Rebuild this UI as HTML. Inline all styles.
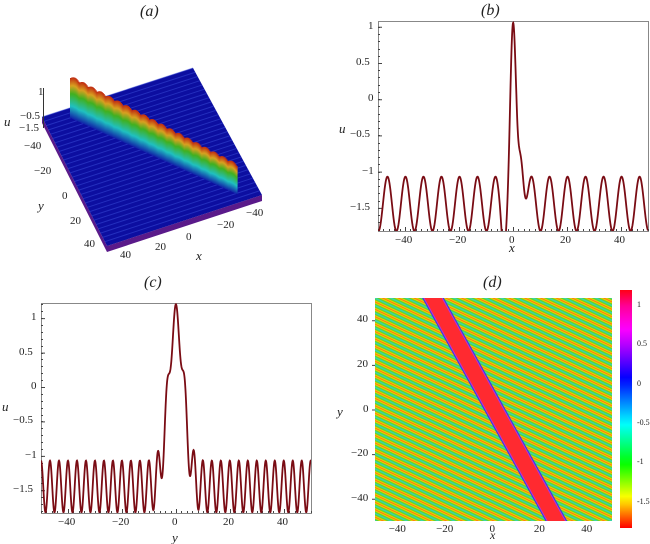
<!DOCTYPE html>
<html><head><meta charset="utf-8"><style>
html,body{margin:0;padding:0;background:#fff;width:650px;height:544px;overflow:hidden}
body{position:relative;font-family:"Liberation Serif",serif;color:#222}
.t{position:absolute;font-size:11px;white-space:nowrap}
.ti{position:absolute;font-size:16px;font-style:italic;white-space:nowrap}
#sv{position:absolute;left:0;top:0}
</style></head><body>
<div id="sv"></div>
<div class="ti" style="left:140px;top:3px">(a)</div>
<div class="ti" style="left:481px;top:2px">(b)</div>
<div class="ti" style="left:144px;top:274px">(c)</div>
<div class="ti" style="left:483px;top:274px">(d)</div>
<div class="t" style="left:38px;top:86px">1</div>
<div class="t" style="left:20px;top:110px">−0.5</div>
<div class="t" style="left:19px;top:122px">−1.5</div>
<div class="t" style="left:4px;top:114px;font-style:italic;font-size:13px">u</div>
<div class="t" style="left:24px;top:140px">−40</div>
<div class="t" style="left:34px;top:165px">−20</div>
<div class="t" style="left:62px;top:190px">0</div>
<div class="t" style="left:70px;top:215px">20</div>
<div class="t" style="left:84px;top:238px">40</div>
<div class="t" style="left:38px;top:198px;font-style:italic;font-size:13px">y</div>
<div class="t" style="left:120px;top:249px">40</div>
<div class="t" style="left:155px;top:241px">20</div>
<div class="t" style="left:186px;top:231px">0</div>
<div class="t" style="left:217px;top:219px">−20</div>
<div class="t" style="left:246px;top:207px">−40</div>
<div class="t" style="left:196px;top:248px;font-style:italic;font-size:13px">x</div>
<div id="lab"></div>
<script>
var S=[];var DEF=[];
var labEl=document.getElementById('lab');
function TX(x,y,s,st){var d=document.createElement('div');d.className='t';d.style.left=x+'px';d.style.top=y+'px';if(st)d.setAttribute('style',d.getAttribute('style')+';'+st);d.textContent=s;labEl.appendChild(d);}
function lin(a,b,c2,d2,v){return c2+(v-a)*(d2-c2)/(b-a);}
function ub(x){var e=Math.exp(-Math.pow(x/1.4,2)),s=Math.exp(-Math.pow((x-2.8)/1.7,2));
 return -1.445+0.375*Math.cos(2*Math.PI*(x+46.5)/6.67)*(1-0.6*Math.max(e,s))+2.3*e+0.75*s-0.3*Math.exp(-Math.pow((x+3.5),2));}
function uc(y){var e=Math.exp(-Math.pow(y/4,2));return -1.445+0.375*Math.cos(2*Math.PI*(y+50)/3.33)*(1-0.5*e)+2.46*e;}
var CM=[[-1.82,0],[-1.5,50],[-1,120],[-0.5,180],[0,232],[0.5,282],[1,325],[1.2,355]];
function col(u){var h=0;if(u<=CM[0][0])h=0;else if(u>=CM[7][0])h=355;else for(var i=0;i<7;i++){if(u>=CM[i][0]&&u<=CM[i+1][0]){h=lin(CM[i][0],CM[i+1][0],CM[i][1],CM[i+1][1],u);break;}}
 return 'hsl('+h.toFixed(1)+',100%,50%)';}
function plot(L,R,Tp,B,ymin,ymax,f,xt,yt,xl,yl,id){
 S.push('<rect x="'+(L+.5)+'" y="'+(Tp+.5)+'" width="'+(R-L)+'" height="'+(B-Tp)+'" fill="none" stroke="#888"/>');
 var p='';
 yt.forEach(function(v){var py=lin(ymin,ymax,B,Tp,v);p+='M'+L+' '+(py+.5)+'h4';
  TX(L-4-(String(v).length*6),py-7,String(v).replace('-','−'));});
 for(var v=Math.ceil(ymin*10)/10;v<ymax;v+=0.1){var py=Math.round(lin(ymin,ymax,B,Tp,v));p+='M'+L+' '+(py+.5)+'h2';}
 xt.forEach(function(v){var px=lin(-50,50,L,R,v);p+='M'+(px+.5)+' '+B+'v-4';
  TX(px-(String(v).length*3)-1,B+3,String(v).replace('-','−'));});
 for(var v2=-50;v2<=50;v2+=2){var px=Math.round(lin(-50,50,L,R,v2));p+='M'+(px+.5)+' '+B+'v-2';}
 S.push('<path d="'+p+'" stroke="#444" fill="none"/>');
 DEF.push('<clipPath id="'+id+'"><rect x="'+L+'" y="'+Tp+'" width="'+(R-L)+'" height="'+(B-Tp)+'"/></clipPath>');
 var pts=[];for(var i=0;i<=1200;i++){var vv=-50+i/12;pts.push(lin(-50,50,L,R,vv).toFixed(2)+','+lin(ymin,ymax,B,Tp,f(vv)).toFixed(2));}
 S.push('<polyline clip-path="url(#'+id+')" points="'+pts.join(' ')+'" fill="none" stroke="#7a0c14" stroke-width="1.8"/>');
 TX(xl[0],xl[1],xl[2],'font-style:italic;font-size:13px');TX(yl[0],yl[1],yl[2],'font-style:italic;font-size:13px');
}
plot(378,648,21,231,-1.82,1.08,ub,[-40,-20,0,20,40],[1,0.5,0,-0.5,-1,-1.5],[509,240,'x'],[339,121,'u'],'cb');
plot(41,311,303,513,-1.83,1.22,uc,[-40,-20,0,20,40],[1,0.5,0,-0.5,-1,-1.5],[172,530,'y'],[2,399,'u'],'cc');
// panel d
(function(){var L=375,R=612,Tp=298,B=521;
 var ox=L+118.5,oy=B-111.5;
 var st='<stop offset="0" stop-color="#ff6a10"/><stop offset="0.14" stop-color="#f0d800"/><stop offset="0.3" stop-color="#60d020"/><stop offset="0.5" stop-color="#30d8c8"/><stop offset="0.7" stop-color="#60d020"/><stop offset="0.86" stop-color="#f0d800"/><stop offset="1" stop-color="#ff6a10"/>';
 DEF.push('<linearGradient id="stp" gradientUnits="userSpaceOnUse" spreadMethod="repeat" x1="'+ox+'" y1="'+oy+'" x2="'+(ox+2.857)+'" y2="'+(oy-6.08)+'">'+st+'</linearGradient>');
 DEF.push('<clipPath id="cd"><rect x="'+L+'" y="'+Tp+'" width="'+(R-L)+'" height="'+(B-Tp)+'"/></clipPath>');
 S.push('<rect x="'+L+'" y="'+Tp+'" width="'+(R-L)+'" height="'+(B-Tp)+'" fill="url(#stp)"/>');
 function P(x,y){return lin(-50,50,L,R,x).toFixed(1)+','+lin(-50,50,B,Tp,y).toFixed(1);}
 function band(hw,c){S.push('<polygon points="'+P(-28.1-hw,55)+' '+P(-28.1+hw,55)+' '+P(29.1+hw,-55)+' '+P(29.1-hw,-55)+'" fill="'+c+'"/>');}
 S.push('<g clip-path="url(#cd)">');band(4.6,'#3040e0');band(4.1,'#c030d0');band(3.6,'#ff2a30');S.push('</g>');
 var p='';
 [-40,-20,0,20,40].forEach(function(v){var px=lin(-50,50,L,R,v);TX(px-(String(v).length*3)-1,B+2,String(v).replace('-','−'));
  var py=lin(-50,50,B,Tp,v);TX(L-6-String(v).length*6,py-7,String(v).replace('-','−'));p+='M'+(L-3)+' '+(py+.5)+'h3';});
 S.push('<path d="'+p+'" stroke="#444"/>');
 TX(490,528,'x','font-style:italic;font-size:12px');TX(337,404,'y','font-style:italic;font-size:13px');
 var cs='';for(var k2=0;k2<=30;k2++){var t2=k2/30;cs+='<stop offset="'+t2+'" stop-color="'+col(1.2-3.02*t2)+'"/>';}
 DEF.push('<linearGradient id="cbar" x1="0" y1="0" x2="0" y2="1">'+cs+'</linearGradient>');
 S.push('<rect x="620" y="290" width="12" height="238" fill="url(#cbar)"/>');
 [[1,'1'],[0.5,'0.5'],[0,'0'],[-0.5,'-0.5'],[-1,'-1'],[-1.5,'-1.5']].forEach(function(a){TX(637,lin(1.2,-1.82,290,528,a[0])-6,a[1],'font-size:8px');});
})();
// panel a
(function(){
 S.push('<polygon points="42,117 107,246 262,195 262,201 107,252 42,123" fill="#5a1a8a"/>');
 S.push('<polygon points="42,117 193,68 262,195 107,246" fill="#0c0ea0"/>');
 var p='';for(var k=0;k<30;k++){var t=k/30;p+='M'+(42+65*t)+' '+(117+129*t)+'L'+(193+69*t)+' '+(68+127*t);}
 S.push('<path d="'+p+'" stroke="rgba(60,80,220,0.5)" fill="none"/>');
 DEF.push('<linearGradient id="rg" x1="0" y1="0" x2="0" y2="1"><stop offset="0" stop-color="#c02a10"/><stop offset="0.2" stop-color="#d8a020"/><stop offset="0.4" stop-color="#40b020"/><stop offset="0.7" stop-color="#20c0c0"/><stop offset="1" stop-color="#1020a8"/></linearGradient>');
 for(var i=0;i<=165;i+=1){var t=i/165;var bx=70+166*t,by=118+76*t;var tx=bx,ty=78+88*t-2.5*Math.abs(Math.sin(Math.PI*t*19));
  S.push('<rect x="'+tx.toFixed(1)+'" y="'+ty.toFixed(1)+'" width="1.6" height="'+(by-ty).toFixed(1)+'" fill="url(#rg)"/>');}
 S.push('<path d="M43.5 88V128" stroke="#333"/>');
})();
document.getElementById('sv').innerHTML='<svg xmlns="http://www.w3.org/2000/svg" width="650" height="544"><defs>'+DEF.join('')+'</defs>'+S.join('')+'</svg>';
</script>
</body></html>
